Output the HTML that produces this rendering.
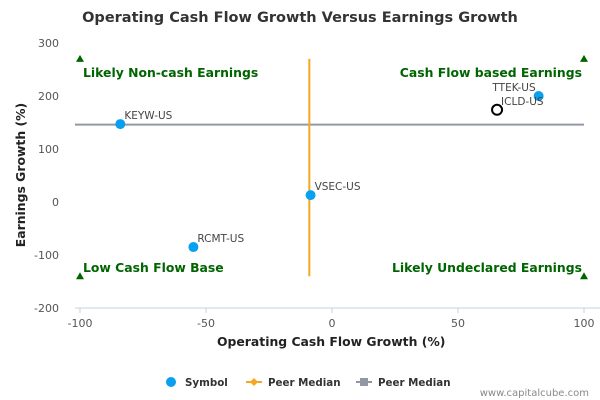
<!DOCTYPE html>
<html><head><meta charset="utf-8"><style>
body{margin:0;background:#fff}
svg{font-family:"DejaVu Sans","Liberation Sans",sans-serif;display:block}
</style></head><body>
<svg id="chart" width="600" height="400" xmlns="http://www.w3.org/2000/svg">
<rect width="600" height="400" fill="#fff"/>
<text x="300" y="22" text-anchor="middle" font-size="14.5" font-weight="bold" fill="#333">Operating Cash Flow Growth Versus Earnings Growth</text>
<g id="axes"></g>
<g id="marks"></g>
<text x="217" y="346" font-size="12.4" font-weight="bold" fill="#222">Operating Cash Flow Growth (%)</text>
<text transform="translate(25,175) rotate(-90)" text-anchor="middle" font-size="12.4" font-weight="bold" fill="#222">Earnings Growth (%)</text>
<g font-size="10.3" font-weight="bold" fill="#333">
<g><circle cx="171" cy="382" r="5" fill="#0aa0f0"/><text x="185" y="386">Symbol</text></g>
<g><line x1="246" y1="382" x2="262" y2="382" stroke="#f5a623" stroke-width="2"/><path d="M254 378 L258 382 L254 386 L250 382Z" fill="#f5a623"/><text x="268" y="386">Peer Median</text></g>
<g><line x1="356" y1="382" x2="372" y2="382" stroke="#9098a5" stroke-width="2"/><rect x="360" y="378" width="8" height="8" fill="#9098a5"/><text x="378" y="386">Peer Median</text></g>
</g>
<text x="589" y="396" text-anchor="end" font-size="10" fill="#888">www.capitalcube.com</text>
</svg>
<script>
const symbols=["KEYW-US","RCMT-US","VSEC-US","TTEK-US","ICLD-US"];
const cashFlowGrowth=[-84,-55,-8.5,82,65.5];
const earningsGrowth=[147,-85,13,200,174];
const highlighted=[false,false,false,false,true];
const xTicks=[-100,-50,0,50,100];
const yTicks=[-200,-100,0,100,200,300];
const medianX=-9, medianY=146;
const quadrantLabels=["Likely Non-cash Earnings","Cash Flow based Earnings","Low Cash Flow Base","Likely Undeclared Earnings"];
const quadrantX=[-100,100,-100,100];
const quadrantY=[270,270,-140,-140];

const NS="http://www.w3.org/2000/svg";
const X=v=>332+v*2.52, Y=v=>202-v*0.53;
function mk(tag,attrs,parent,txt){const e=document.createElementNS(NS,tag);for(const k in attrs)e.setAttribute(k,attrs[k]);if(txt!==undefined)e.textContent=txt;parent.appendChild(e);return e;}
const axes=document.getElementById('axes'), marks=document.getElementById('marks');
let l=mk('line',{x1:75,y1:308,x2:600,y2:308,stroke:'#c0d0e0'},axes);


xTicks.forEach(t=>{
 let tk=mk('line',{x1:X(t),y1:308,x2:X(t),y2:313,stroke:'#c0d0e0'},axes);
 
 
 let tx=mk('text',{x:X(t),y:327,'text-anchor':'middle','font-size':11,fill:'#555'},axes,String(t));
 
 
});
yTicks.forEach(t=>{
 let tx=mk('text',{x:59,y:Y(t)+4,'text-anchor':'end','font-size':11,fill:'#555'},axes,String(t));
 
 
});
let hm=mk('line',{x1:X(-102),y1:Y(medianY),x2:X(100),y2:Y(medianY),stroke:'#9098a5','stroke-width':2},marks);


let vm=mk('line',{x1:X(medianX),y1:Y(270),x2:X(medianX),y2:Y(-140),stroke:'#f5a623','stroke-width':2},marks);


quadrantLabels.forEach((s,i)=>{
 const x=X(quadrantX[i]), y=Y(quadrantY[i]);
 let tr=mk('path',{d:`M${x} ${y-4} L${x+4} ${y+3} L${x-4} ${y+3}Z`,fill:'#006400'},marks);
 
 
 const top=quadrantY[i]>0;
 const right=quadrantX[i]>0;
 let tx=mk('text',{x:right?x-2:x+3,y:top?y+18:y-4,'text-anchor':right?'end':'start','font-size':12.4,'font-weight':'bold',fill:'#006400'},marks,s);
 
 
});
symbols.forEach((s,i)=>{
 const x=X(cashFlowGrowth[i]), y=Y(earningsGrowth[i]);
 let c=highlighted[i]?mk('circle',{cx:x,cy:y,r:5,fill:'#fff',stroke:'#000','stroke-width':2},marks):mk('circle',{cx:x,cy:y,r:5,fill:'#0aa0f0'},marks);
 
 
 const rt=cashFlowGrowth[i]>75;
 let tx=mk('text',{x:rt?x-3:x+4,y:y-5,'text-anchor':rt?'end':'start','font-size':10.5,fill:'#444'},marks,s);
 
 
});
</script>
</body></html>
